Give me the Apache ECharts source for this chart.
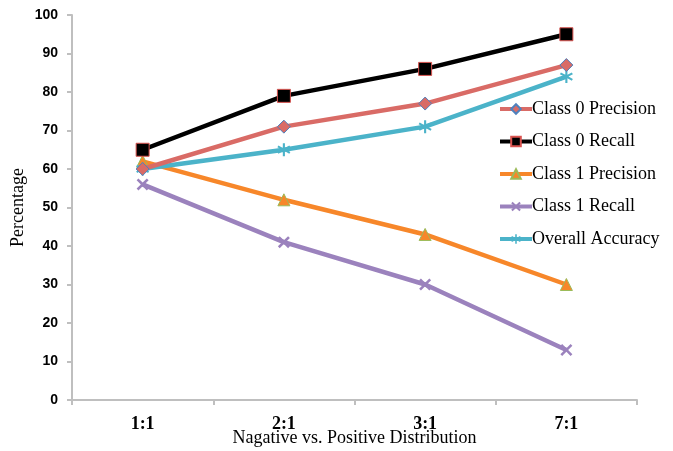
<!DOCTYPE html>
<html><head><meta charset="utf-8">
<script src="https://cdn.jsdelivr.net/npm/echarts@6/dist/echarts.min.js"></script>
<style>html,body{margin:0;padding:0;background:#fff}#c{width:673px;height:451px}</style>
</head><body><div id="c"></div>
<script>
var categories = ['1:1', '2:1', '3:1', '7:1'];
var class0Precision = [60, 71, 77, 87];
var class0Recall = [65, 79, 86, 95];
var class1Precision = [62, 52, 43, 30];
var class1Recall = [56, 41, 30, 13];
var overallAccuracy = [60, 65, 71, 84];
var yTicks = [0, 10, 20, 30, 40, 50, 60, 70, 80, 90, 100];

var xPath = 'path://M0,1.5L1.5,0L5,3.5L8.5,0L10,1.5L6.5,5L10,8.5L8.5,10L5,6.5L1.5,10L0,8.5L3.5,5Z';
var starPath = 'path://M4.3,0L5.7,0L5.7,3.3L8.6,1.6L9.3,2.8L6.4,4.4L9.3,6.1L8.6,7.3L5.7,5.6L5.7,9L4.3,9L4.3,5.6L1.4,7.3L0.7,6.1L3.6,4.4L0.7,2.8L1.4,1.6L4.3,3.3Z';

function mk(name, data, color, symbol, size, fill, border, z) {
  return {
    name: name, type: 'line', data: data, z: z,
    symbol: symbol, symbolSize: size,
    lineStyle: { color: color, width: 4.5 },
    itemStyle: { color: fill, borderColor: border || fill, borderWidth: border ? 1 : 0 },
    emphasis: { disabled: true }
  };
}

var chart = echarts.init(document.getElementById('c'));
chart.setOption({
  animation: false,
  backgroundColor: '#fff',
  grid: { left: 72, right: 36, top: 15, bottom: 51, containLabel: false, outerBoundsMode: 'none' },
  legend: {
    orient: 'vertical', left: 493, top: 95, itemGap: 14.5,
    itemWidth: 32, itemHeight: 12,
    lineStyle: { width: 4 },
    textStyle: { fontFamily: 'Liberation Serif', fontSize: 18, color: '#000', padding: [0,0,0,-5] },
    data: ['Class 0 Precision', 'Class 0 Recall', 'Class 1 Precision', 'Class 1 Recall', 'Overall Accuracy']
  },
  xAxis: {
    type: 'category', data: categories, boundaryGap: true,
    name: 'Nagative vs. Positive Distribution', nameLocation: 'middle', nameGap: 29, nameMoveOverlap: false,
    nameTextStyle: { fontFamily: 'Liberation Serif', fontSize: 18, color: '#000' },
    axisLine: { lineStyle: { color: '#bfbfbf', width: 2 } },
    axisTick: { show: true, length: 5, lineStyle: { color: '#bfbfbf', width: 2 } },
    axisLabel: { fontFamily: 'Liberation Serif', fontWeight: 'bold', fontSize: 18, color: '#000', margin: 15 }
  },
  yAxis: {
    type: 'value', min: yTicks[0], max: yTicks[yTicks.length - 1], interval: 10,
    name: 'Percentage', nameLocation: 'middle', nameGap: 45, nameRotate: 90, nameMoveOverlap: false,
    nameTextStyle: { fontFamily: 'Liberation Serif', fontSize: 18, color: '#000' },
    axisLine: { show: true, lineStyle: { color: '#bfbfbf', width: 2 } },
    axisTick: { show: true, length: 5, lineStyle: { color: '#bfbfbf', width: 2 } },
    splitLine: { show: false },
    axisLabel: { fontFamily: 'Liberation Sans', fontWeight: 'bold', fontSize: 14, color: '#000', margin: 14 }
  },
  series: [
    mk('Class 1 Recall', class1Recall, '#9b82bd', xPath, 12, '#9b82bd', null, 2),
    mk('Class 1 Precision', class1Precision, '#f7872a', 'triangle', 12, '#f7872a', '#9bbb59', 3),
    mk('Overall Accuracy', overallAccuracy, '#4bb3c9', starPath, 13, '#4bb3c9', null, 4),
    mk('Class 0 Precision', class0Precision, '#d96b66', 'diamond', 13, '#d96b66', '#4f81bd', 5),
    mk('Class 0 Recall', class0Recall, '#000000', 'rect', 13, '#000000', '#d9534f', 6)
  ]
});
</script></body></html>
